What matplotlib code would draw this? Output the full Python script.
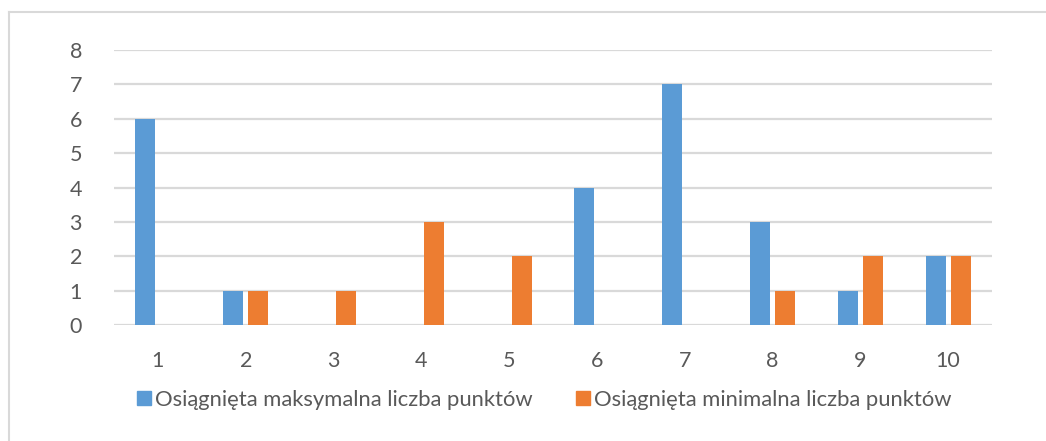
import matplotlib
matplotlib.use("Agg")
import matplotlib.pyplot as plt
from matplotlib.lines import Line2D
import numpy as np

categories = ["1", "2", "3", "4", "5", "6", "7", "8", "9", "10"]
max_points = [6, 1, 0, 0, 0, 4, 7, 3, 1, 2]
min_points = [0, 1, 1, 3, 2, 0, 0, 1, 2, 2]
series_names = ["Osiągnięta maksymalna liczba punktów",
                "Osiągnięta minimalna liczba punktów"]
yticks = [0, 1, 2, 3, 4, 5, 6, 7, 8]

BLUE = "#5B9BD5"
ORANGE = "#ED7D31"
TEXT = "#595959"
GRID = "#D9D9D9"

plt.rcParams["font.family"] = ["Lato", "DejaVu Sans"]

W, H = 1046, 441
fig = plt.figure(figsize=(W / 100, H / 100), dpi=100)
ax = fig.add_axes([114 / W, 1 - 325 / H, (992 - 114) / W, (325 - 50) / H])

x = np.arange(len(categories))
bw = 0.227
off = 0.142
ax.bar(x - off, max_points, bw, color=BLUE, zorder=3)
ax.bar(x + off, min_points, bw, color=ORANGE, zorder=3)

ax.set_xlim(-0.5, len(categories) - 0.5)
ax.set_ylim(0, 8)
ax.set_yticks(yticks)
ax.set_xticks(x)
ax.set_xticklabels(categories)
for s in ax.spines.values():
    s.set_visible(False)
ax.grid(axis="y", color=GRID, lw=1.6, zorder=0)
ax.tick_params(axis="both", length=0, labelsize=15.5, labelcolor=TEXT)
ax.tick_params(axis="y", pad=23)
ax.tick_params(axis="x", pad=19)

handles = [Line2D([], [], marker="s", ls="none", color=c, markersize=10.5)
           for c in (BLUE, ORANGE)]
fig.legend(handles, series_names, loc="center", bbox_to_anchor=(542 / W, 1 - 400 / H),
           ncol=2, frameon=False, fontsize=15.8, labelcolor=TEXT,
           handletextpad=0.0, columnspacing=1.8, handlelength=1.0)

# chart area border
fig.add_artist(Line2D([9 / W, 1], [1 - 12 / H] * 2, color=GRID, lw=1.5,
                      transform=fig.transFigure))
fig.add_artist(Line2D([9 / W] * 2, [0, 1 - 12 / H], color=GRID, lw=1.5,
                      transform=fig.transFigure))

fig.savefig("out.png", dpi=100, facecolor="white")
